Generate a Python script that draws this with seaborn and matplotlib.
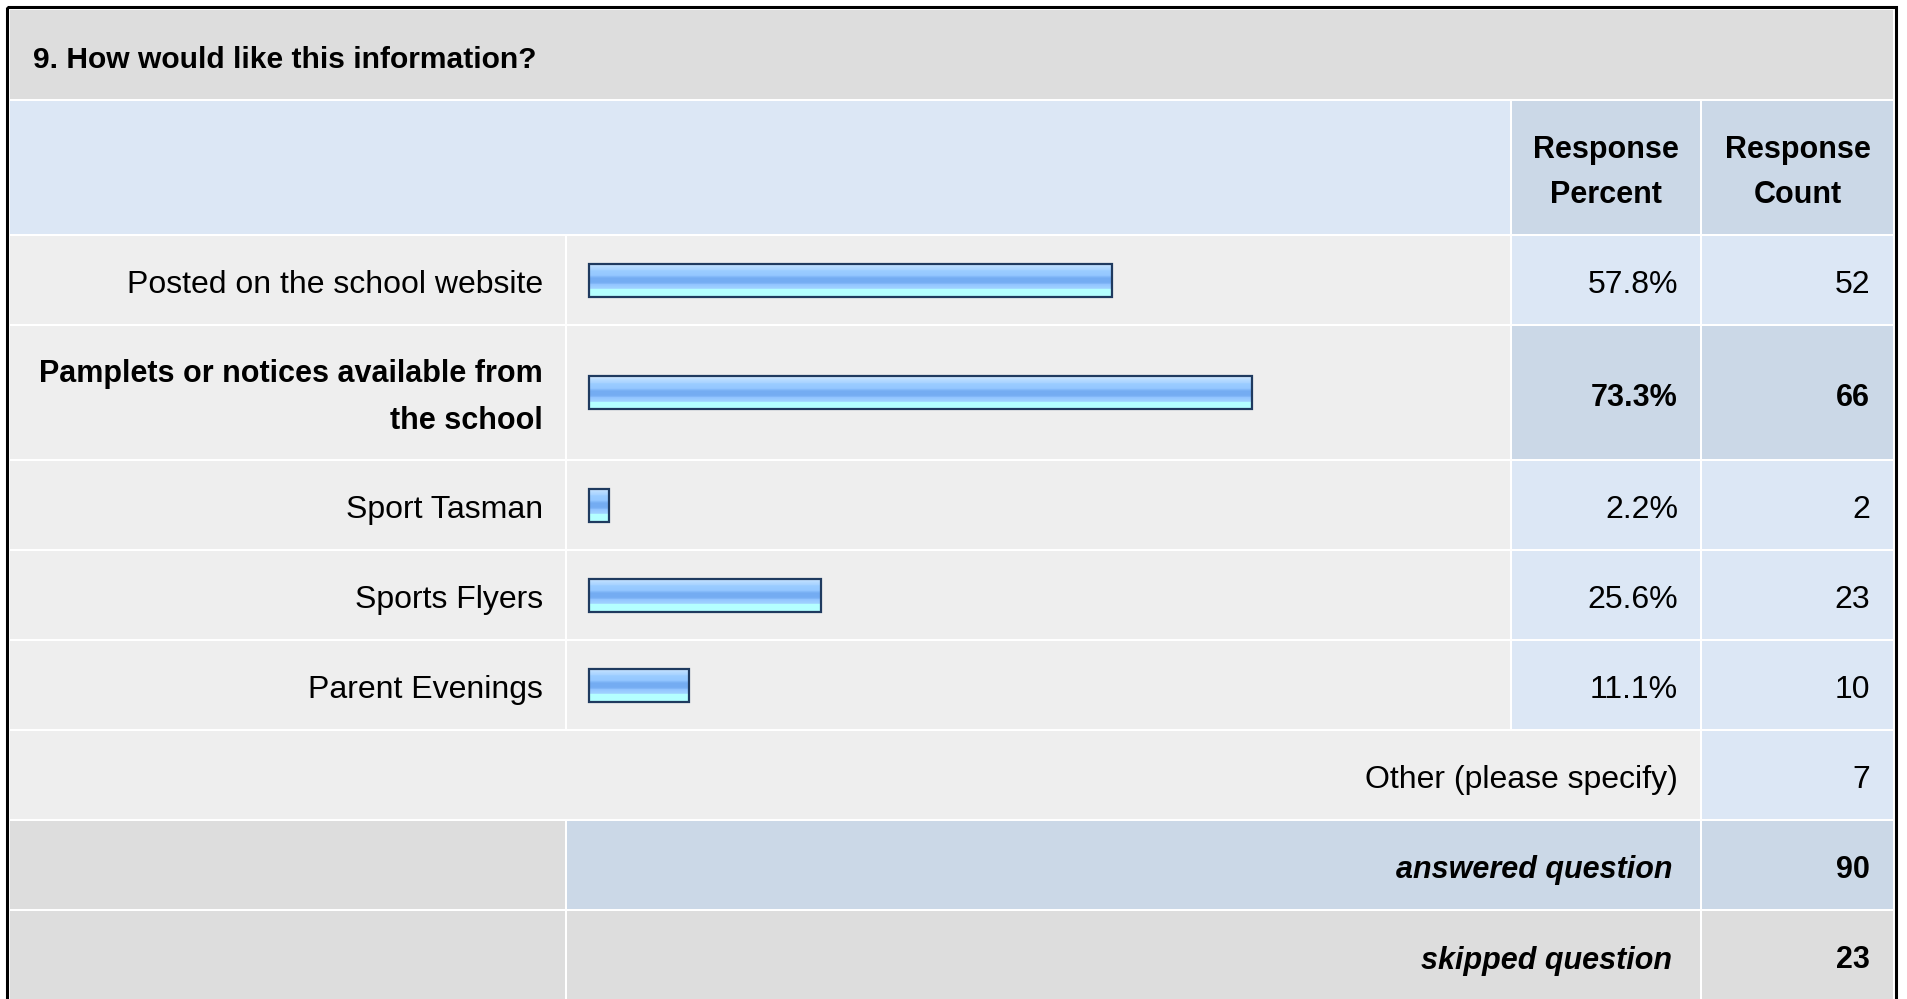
# Survey results table: "How would like this information?"
import numpy as np
import pandas as pd
import seaborn as sns
import matplotlib.pyplot as plt
from matplotlib.patches import Rectangle
from matplotlib.colors import LinearSegmentedColormap

question = "9. How would like this information?"
choices = ["Posted on the school website",
           "Pamplets or notices available from\nthe school",
           "Sport Tasman",
           "Sports Flyers",
           "Parent Evenings"]
percents = [57.8, 73.3, 2.2, 25.6, 11.1]
counts = [52, 66, 2, 23, 10]
other_label = "Other (please specify)"
other_count = 7
answered = 90
skipped = 23

df = pd.DataFrame({"choice": choices, "percent": percents, "count": counts})
top_idx = df["percent"].idxmax()  # the most common answer is shown in bold

sns.set_style("white")
plt.rcParams["font.family"] = ["Liberation Sans", "DejaVu Sans"]
plt.rcParams["text.color"] = "black"

# colours
GRAY_DARK = "#DDDDDD"
GRAY_LIGHT = "#EEEEEE"
BLUE_LIGHT = "#DCE7F5"
BLUE_DARK = "#CBD8E7"
FS = 23      # regular text
FSB = 22     # bold text

W, H = 1907, 999
fig = plt.figure(figsize=(W / 100, H / 100), dpi=100)
fig.patch.set_facecolor("white")
bg = fig.add_axes([0, 0, 1, 1])
bg.set_xlim(0, W)
bg.set_ylim(H, 0)
bg.axis("off")

# column and row edges in pixels
cx = [9, 566, 1511, 1701, 1894]
ry = [9, 100, 235, 325, 460, 550, 640, 730, 820, 910, 1010]
DY = 5  # text baseline nudge


def cell(x0, x1, y0, y1, color):
    bg.add_patch(Rectangle((x0 + 1, y0 + 1), x1 - x0 - 2, y1 - y0 - 2,
                           facecolor=color, edgecolor="none"))


# outer frame
bg.add_patch(Rectangle((7, 7), 1889, 1010, facecolor="none",
                       edgecolor="black", linewidth=2.2))

# title band
cell(cx[0], cx[4], ry[0], ry[1], GRAY_DARK)
bg.text(33, (ry[0] + ry[1]) / 2 + 6, question, fontsize=21.6, fontweight="bold",
        ha="left", va="center")

# header
cell(cx[0], cx[2], ry[1], ry[2], BLUE_LIGHT)
cell(cx[2], cx[3], ry[1], ry[2], BLUE_DARK)
cell(cx[3], cx[4], ry[1], ry[2], BLUE_DARK)
hy = (ry[1] + ry[2]) / 2 + 5
bg.text((cx[2] + cx[3]) / 2, hy, "Response\nPercent", fontsize=FSB,
        fontweight="bold", ha="center", va="center", linespacing=1.62)
bg.text((cx[3] + cx[4]) / 2, hy, "Response\nCount", fontsize=FSB,
        fontweight="bold", ha="center", va="center", linespacing=1.62)

# gradient used for the bars
bar_cmap = LinearSegmentedColormap.from_list(
    "bar", [(0.0, "#D6EBFF"), (0.12, "#B5DAFF"), (0.25, "#9ACCFF"),
            (0.38, "#93C6FF"), (0.45, "#74ACF2"), (0.58, "#74ACF2"),
            (0.66, "#92C4FF"), (0.76, "#A0D2FF"), (0.80, "#B4FFFF"),
            (1.0, "#B4FFFF")])
grad = np.linspace(0, 1, 40).reshape(-1, 1)

bar_x0, bar_x1 = 589, 1494  # 0% and 100%
for i, row in df.iterrows():
    y0, y1 = ry[i + 2], ry[i + 3]
    ymid = (y0 + y1) / 2
    is_top = i == top_idx
    weight = "bold" if is_top else "normal"
    size = FSB if is_top else FS
    cell(cx[0], cx[1], y0, y1, GRAY_LIGHT)
    cell(cx[1], cx[2], y0, y1, GRAY_LIGHT)
    num_col = BLUE_DARK if is_top else BLUE_LIGHT
    cell(cx[2], cx[3], y0, y1, num_col)
    cell(cx[3], cx[4], y0, y1, num_col)
    bg.text(543, ymid + DY, row["choice"], fontsize=size, fontweight=weight,
            ha="right", va="center", linespacing=1.72)
    bg.text(1678, ymid + DY, f"{row['percent']:.1f}%", fontsize=size,
            fontweight=weight, ha="right", va="center")
    bg.text(1870, ymid + DY, f"{row['count']}", fontsize=size,
            fontweight=weight, ha="right", va="center")

    # bar in its own axes: x runs 0..100 percent
    ax = fig.add_axes([bar_x0 / W, 1 - y1 / H, (bar_x1 - bar_x0) / W, (y1 - y0) / H])
    sns.barplot(x=[row["percent"]], y=[row["choice"]], orient="h", ax=ax,
                width=33 / (y1 - y0), color="#99CCFF", edgecolor="#1F3A5F",
                linewidth=1.6, errorbar=None)
    ax.set_xlim(0, 100)
    ax.set_ylim(0.5, -0.5)
    for p in ax.patches:
        bb = p.get_bbox()
        im = ax.imshow(grad, cmap=bar_cmap, aspect="auto", origin="upper",
                       extent=[bb.x0, bb.x1, bb.y1, bb.y0], zorder=2,
                       interpolation="nearest")
        im.set_clip_path(p)
        p.set_facecolor("none")
        p.set_zorder(3)
        p.set_clip_on(False)
    ax.set_xlim(0, 100)
    ax.set_ylim(0.5, -0.5)
    ax.axis("off")
    ax.patch.set_visible(False)

# other row
y0, y1 = ry[7], ry[8]
cell(cx[0], cx[3], y0, y1, GRAY_LIGHT)
cell(cx[3], cx[4], y0, y1, BLUE_LIGHT)
bg.text(1678, (y0 + y1) / 2 + DY, other_label, fontsize=FS, ha="right", va="center")
bg.text(1870, (y0 + y1) / 2 + DY, f"{other_count}", fontsize=FS, ha="right", va="center")

# answered / skipped
y0, y1 = ry[8], ry[9]
cell(cx[0], cx[1], y0, y1, GRAY_DARK)
cell(cx[1], cx[3], y0, y1, BLUE_DARK)
cell(cx[3], cx[4], y0, y1, BLUE_DARK)
bg.text(1672, (y0 + y1) / 2 + DY, "answered question", fontsize=FSB,
        fontweight="bold", fontstyle="italic", ha="right", va="center")
bg.text(1870, (y0 + y1) / 2 + DY, f"{answered}", fontsize=FSB,
        fontweight="bold", ha="right", va="center")

y0, y1 = ry[9], ry[10]
cell(cx[0], cx[1], y0, y1, GRAY_DARK)
cell(cx[1], cx[3], y0, y1, GRAY_DARK)
cell(cx[3], cx[4], y0, y1, GRAY_DARK)
ym = (y0 + 999) / 2 + 6
bg.text(1672, ym, "skipped question", fontsize=FSB, fontweight="bold",
        fontstyle="italic", ha="right", va="center")
bg.text(1870, ym, f"{skipped}", fontsize=FSB, fontweight="bold",
        ha="right", va="center")

fig.savefig("out.png", dpi=100)
